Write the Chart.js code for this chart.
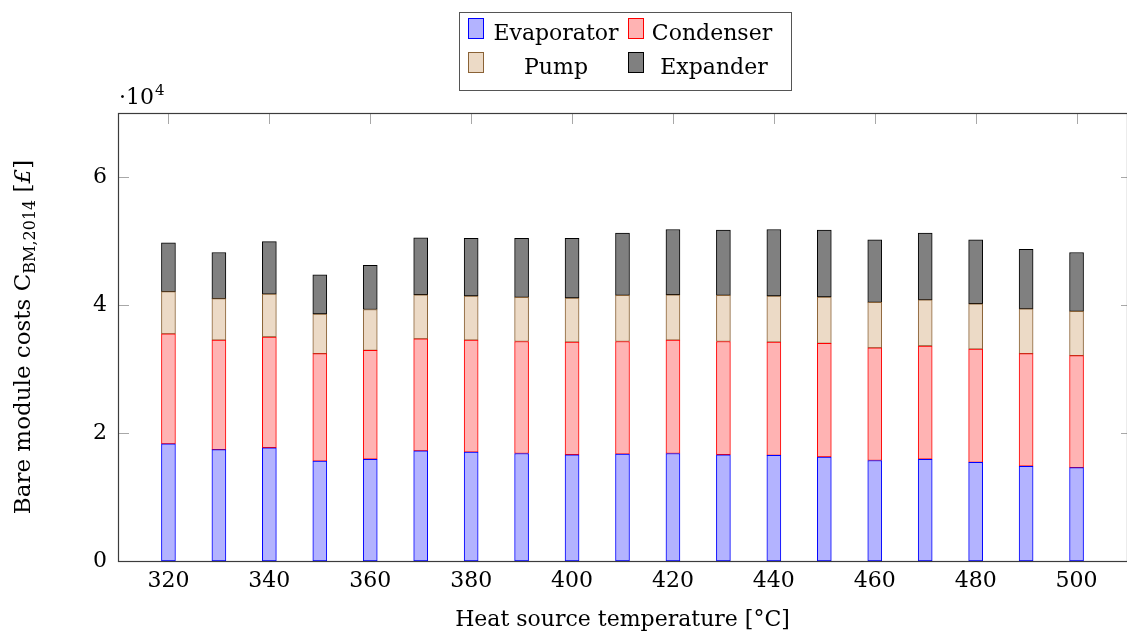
<!DOCTYPE html>
<html>
<head>
<meta charset="utf-8">
<script src="https://cdn.jsdelivr.net/npm/chart.js@4.4.1/dist/chart.umd.min.js"></script>
<style>
  html, body { margin: 0; padding: 0; background: #fff; }
  #wrap { width: 1127px; height: 637px; position: relative; }
</style>
</head>
<body>
<div id="wrap"><canvas id="chart"></canvas></div>
<script>
// Heat source temperatures [°C]
const temps = [320, 330, 340, 350, 360, 370, 380, 390, 400, 410, 420, 430, 440, 450, 460, 470, 480, 490, 500];
// Bare module costs per component [£]
const evaporator = [18300, 17400, 17700, 15600, 15900, 17200, 17000, 16800, 16600, 16700, 16800, 16600, 16500, 16250, 15700, 15900, 15400, 14800, 14600];
const condenser  = [17200, 17100, 17300, 16800, 17000, 17500, 17500, 17500, 17600, 17600, 17700, 17700, 17700, 17750, 17600, 17700, 17700, 17600, 17500];
const pump       = [6600, 6500, 6700, 6200, 6400, 6900, 6900, 6900, 6900, 7200, 7100, 7200, 7200, 7250, 7100, 7200, 7100, 7000, 6900];
const expander   = [7600, 7200, 8200, 6100, 6900, 8900, 9000, 9200, 9300, 9750, 10200, 10200, 10400, 10450, 9800, 10450, 10000, 9300, 9200];

const xTicks = [320, 340, 360, 380, 400, 420, 440, 460, 480, 500];
const yTicks = [0, 20000, 40000, 60000];
const yTickLabels = ['0', '2', '4', '6'];

const FONT = '"DejaVu Serif", "Liberation Serif", serif';

const toPoints = arr => arr.map((v, i) => ({ x: temps[i], y: v }));

function barSet(label, values, fill, edge) {
  return {
    label,
    data: toPoints(values),
    backgroundColor: fill,
    borderColor: edge,
    borderWidth: 1,
    borderSkipped: false,
    barThickness: 14
  };
}

// frame + inward ticks, drawn under the bars
const framePlugin = {
  id: 'frame',
  beforeDatasetsDraw(chart) {
    const { ctx, chartArea: a, scales } = chart;
    ctx.save();
    ctx.strokeStyle = '#a8a8a8';
    ctx.lineWidth = 1;
    ctx.beginPath();
    xTicks.forEach(v => {
      const x = Math.round(scales.x.getPixelForValue(v)) + 0.5;
      ctx.moveTo(x, a.top); ctx.lineTo(x, a.top + 11);
      ctx.moveTo(x, a.bottom); ctx.lineTo(x, a.bottom - 11);
    });
    yTicks.forEach(v => {
      const y = Math.round(scales.y.getPixelForValue(v)) + 0.5;
      ctx.moveTo(a.left, y); ctx.lineTo(a.left + 11, y);
      ctx.moveTo(a.right, y); ctx.lineTo(a.right - 6, y);
    });
    ctx.stroke();
    ctx.restore();
  },
  afterDatasetsDraw(chart) {
    const { ctx, chartArea: a } = chart;
    ctx.save();
    ctx.strokeStyle = '#3c3c3c';
    ctx.lineWidth = 1.2;
    ctx.strokeRect(Math.round(a.left) + 0.5, Math.round(a.top) + 0.5, a.right - a.left, a.bottom - a.top);
    ctx.restore();
  }
};

// y title with subscript, ·10^4 multiplier, boxed legend
const textPlugin = {
  id: 'texts',
  afterDraw(chart) {
    const { ctx, chartArea: a } = chart;
    ctx.save();
    ctx.fillStyle = '#000';

    // multiplier
    ctx.textBaseline = 'alphabetic';
    ctx.textAlign = 'left';
    ctx.font = '22px ' + FONT;
    ctx.fillText('·10', a.left + 1, 104);
    const w10 = ctx.measureText('·10').width;
    ctx.font = '15px ' + FONT;
    ctx.fillText('4', a.left + 1 + w10 + 1, 95);

    // y axis title
    const parts = [
      { t: 'Bare module costs C', f: '23px ' + FONT, dy: 0 },
      { t: 'BM,2014', f: '16px ' + FONT, dy: 5 },
      { t: ' [', f: '23px ' + FONT, dy: 0 },
      { t: '£', f: 'italic 23px ' + FONT, dy: 0 },
      { t: ']', f: '23px ' + FONT, dy: 0 }
    ];
    let total = 0;
    parts.forEach(p => { ctx.font = p.f; p.w = ctx.measureText(p.t).width; total += p.w; });
    ctx.translate(30, (a.top + a.bottom) / 2);
    ctx.rotate(-Math.PI / 2);
    let x = -total / 2;
    parts.forEach(p => { ctx.font = p.f; ctx.fillText(p.t, x, p.dy); x += p.w; });
    ctx.setTransform(1, 0, 0, 1, 0, 0);

    // legend
    ctx.strokeStyle = '#555';
    ctx.lineWidth = 1;
    ctx.strokeRect(459.5, 12.5, 332, 78);
    const ds = chart.data.datasets;
    const slots = [
      { i: 0, sx: 468, cx: 556, sy: 18, by: 40 },
      { i: 1, sx: 628, cx: 712, sy: 18, by: 40 },
      { i: 2, sx: 468, cx: 556, sy: 52, by: 74 },
      { i: 3, sx: 628, cx: 714, sy: 52, by: 74 }
    ];
    ctx.font = '22px ' + FONT;
    ctx.textAlign = 'center';
    slots.forEach(s => {
      const d = ds[s.i];
      ctx.fillStyle = d.backgroundColor;
      ctx.fillRect(s.sx, s.sy, 16, 21);
      ctx.strokeStyle = d.borderColor;
      ctx.strokeRect(s.sx + 0.5, s.sy + 0.5, 15, 20);
      ctx.fillStyle = '#000';
      ctx.fillText(d.label, s.cx, s.by);
    });
    ctx.restore();
  }
};

new Chart(document.getElementById('chart'), {
  type: 'bar',
  data: {
    datasets: [
      barSet('Evaporator', evaporator, '#b3b3ff', '#0000ff'),
      barSet('Condenser', condenser, '#ffb3b3', '#ff0000'),
      barSet('Pump', pump, '#ecdac6', '#8a6236'),
      barSet('Expander', expander, '#808080', '#000000')
    ]
  },
  options: {
    responsive: true,
    maintainAspectRatio: false,
    animation: false,
    layout: { padding: { top: 113, left: 0, right: 0, bottom: 0 } },
    plugins: { legend: { display: false }, tooltip: { enabled: false } },
    scales: {
      x: {
        type: 'linear',
        stacked: true,
        offset: false,
        min: 310,
        max: 510,
        afterBuildTicks: s => { s.ticks = xTicks.map(v => ({ value: v })); },
        afterFit: s => { s.height = 76; },
        grid: { display: false, drawTicks: false, offset: false },
        border: { display: false },
        ticks: { color: '#000', font: { family: FONT, size: 22 }, padding: 7, maxRotation: 0,
                 callback: v => String(v) },
        title: { display: true, text: 'Heat source temperature [°C]', color: '#000',
                 font: { family: FONT, size: 22 }, padding: { top: 0, bottom: 4 } }
      },
      y: {
        stacked: true,
        min: 0,
        max: 70000,
        afterBuildTicks: s => { s.ticks = yTicks.map(v => ({ value: v })); },
        afterFit: s => { s.width = 118; },
        grid: { display: false, drawTicks: false },
        border: { display: false },
        ticks: { color: '#000', font: { family: FONT, size: 22 }, padding: 11,
                 callback: v => yTickLabels[yTicks.indexOf(v)] }
      }
    }
  },
  plugins: [framePlugin, textPlugin]
});
</script>
</body>
</html>
